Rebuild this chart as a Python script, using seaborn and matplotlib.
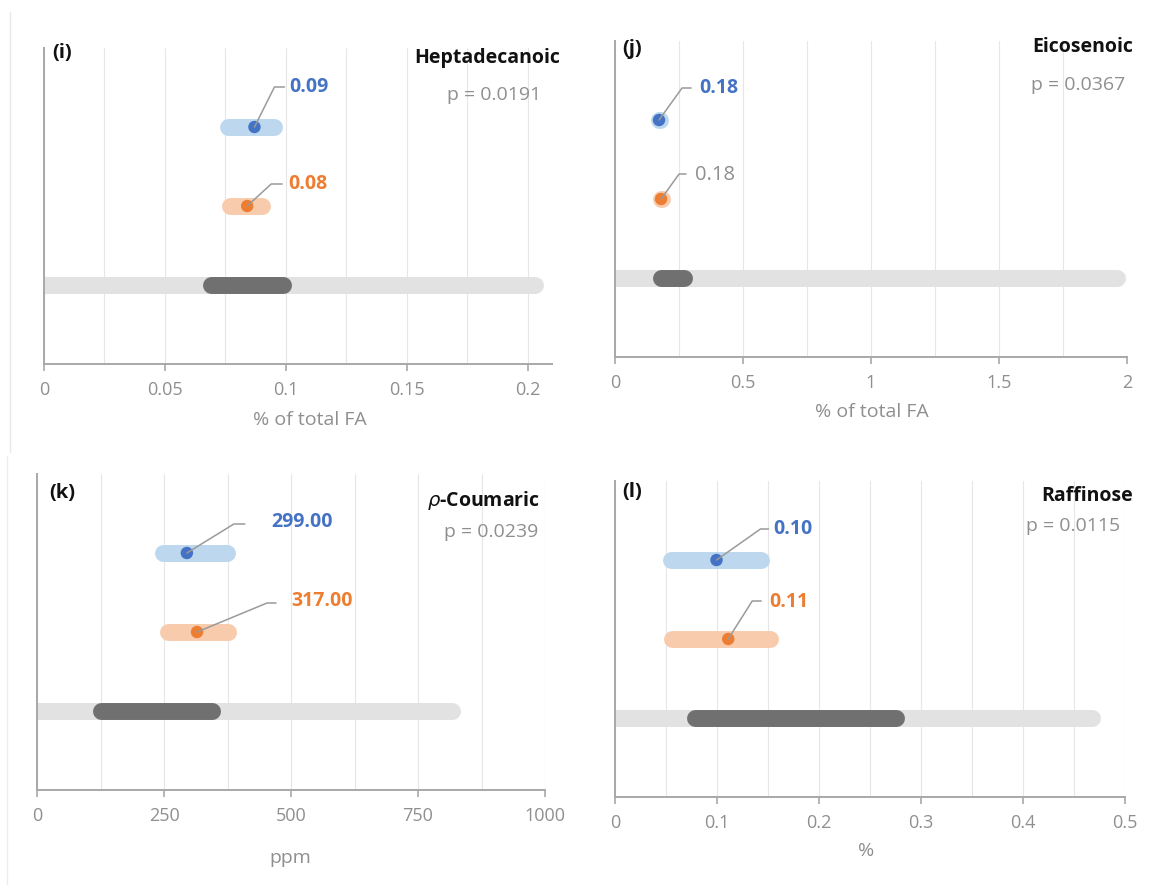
import numpy as np
import pandas as pd
import seaborn as sns
import matplotlib.pyplot as plt
from matplotlib.lines import Line2D
from matplotlib.ticker import MultipleLocator, FuncFormatter
from matplotlib.transforms import IdentityTransform

# ---- data ----
panel_tags = ['(i)', '(j)', '(k)', '(l)']
compounds = ['Heptadecanoic', 'Eicosenoic', r'$\rho$-Coumaric', 'Raffinose']
p_values = ['p = 0.0191', 'p = 0.0367', 'p = 0.0239', 'p = 0.0115']
x_titles = ['% of total FA', '% of total FA', 'ppm', '%']
x_max = [0.21, 2.0, 1000, 0.5]
x_step = [0.05, 0.5, 250, 0.1]

blue_mean = [0.087, 0.172, 295, 0.0995]
blue_low = [0.076, 0.170, 248, 0.055]
blue_high = [0.095, 0.175, 374, 0.143]
blue_text = ['0.09', '0.18', '299.00', '0.10']

orange_mean = [0.084, 0.180, 315, 0.111]
orange_low = [0.077, 0.178, 258, 0.056]
orange_high = [0.090, 0.183, 376, 0.152]
orange_text = ['0.08', '0.18', '317.00', '0.11']

all_low = [0, 0, 0, 0]
all_high = [0.203, 1.96, 817, 0.468]
iqr_low = [0.069, 0.18, 126, 0.078]
iqr_high = [0.099, 0.27, 344, 0.275]

# ---- layout (pixels in the 1157x885 image) ----
W, H = 1157, 885
boxes = [(44, 364, 552), (615, 357, 1127), (37, 790, 545), (615, 797, 1125)]
row_px = 79
title_pos = [(560, 58), (1133, 47), (540, 501), (1133, 496)]
p_pos = [(541, 95), (1125, 85), (538, 532), (1120, 526)]
tag_pos = [(52, 53), (622, 49), (49, 493), (622, 492)]
xlab_pos = [(310, 420), (872, 412), (290, 858), (866, 851)]
# leader offsets from the dot: corner, end of line, label start (pixels, up positive)
blue_lead = [((20, 40), (30, 40), (35, 40)), ((23, 32), (32, 32), (40, 32)),
             ((47, 29), (58, 29), (84, 31)), ((44, 31), (52, 31), (57, 31))]
orange_lead = [((24, 22), (35, 22), (41, 22)), ((18, 25), (25, 25), (34, 24)),
               ((70, 29), (79, 29), (94, 31)), ((24, 38), (33, 38), (41, 37))]
orange_bold = [True, False, True, True]

BLUE, BLUE_L = '#4472c4', '#bdd7ee'
ORANGE, ORANGE_L = '#ed7d31', '#f8cbad'
GREY_L, GREY_D = '#e2e2e2', '#707070'
TXT = '#8f8f8f'

sns.set_theme(style='white')
plt.rcParams['font.family'] = ['Open Sans', 'DejaVu Sans']

fig = plt.figure(figsize=(W / 100, H / 100), dpi=100)
fx = lambda x: x / W
fy = lambda y: 1 - y / H

fig.add_artist(Line2D([fx(10), fx(10)], [fy(12), fy(452)], color='#e8e8e8', lw=1))
fig.add_artist(Line2D([fx(7), fx(7)], [fy(456), fy(885)], color='#ededed', lw=1))

for i in range(4):
    left, bottom, right = boxes[i]
    ax = fig.add_axes([fx(left), fy(bottom), (right - left) / W, 4 * row_px / H])

    bar_w = 12.2
    ax.plot([all_low[i], all_high[i]], [0, 0], color=GREY_L, lw=bar_w,
            solid_capstyle='round', zorder=2)
    ax.plot([iqr_low[i], iqr_high[i]], [0, 0], color=GREY_D, lw=bar_w,
            solid_capstyle='round', zorder=2)
    ax.plot([orange_low[i], orange_high[i]], [1, 1], color=ORANGE_L, lw=bar_w,
            solid_capstyle='round', zorder=2)
    ax.plot([blue_low[i], blue_high[i]], [2, 2], color=BLUE_L, lw=bar_w,
            solid_capstyle='round', zorder=2)

    dots = pd.DataFrame({'value': [blue_mean[i], orange_mean[i]],
                         'row': [2, 1], 'group': ['A', 'B']})
    sns.scatterplot(data=dots, x='value', y='row', hue='group',
                    palette={'A': BLUE, 'B': ORANGE}, s=80, edgecolor='none',
                    legend=False, ax=ax, zorder=4)

    ax.set_xlim(0, x_max[i])
    ax.set_ylim(-1, 3)
    ax.set_xlabel('')
    ax.set_ylabel('')
    ax.set_yticks([])
    ax.xaxis.set_major_locator(MultipleLocator(x_step[i]))
    ax.xaxis.set_minor_locator(MultipleLocator(x_step[i] / 2))
    ax.xaxis.set_major_formatter(FuncFormatter(lambda v, p: f'{v:g}'))
    ax.grid(which='both', axis='x', color='#e6e6e6', lw=0.8, zorder=0)
    ax.set_axisbelow(True)
    for s in ['top', 'right']:
        ax.spines[s].set_visible(False)
    for s in ['left', 'bottom']:
        ax.spines[s].set_color('#a8a8a8')
        ax.spines[s].set_linewidth(1.4)
    ax.tick_params(axis='x', which='major', direction='out', length=5, width=1.2,
                   color='#a8a8a8', labelcolor=TXT, labelsize=13, pad=7, bottom=True)
    ax.tick_params(axis='x', which='minor', length=0)

    # value labels with leader lines
    for mean, row, lead, txt, col, bold in [
            (blue_mean[i], 2, blue_lead[i], blue_text[i], BLUE, True),
            (orange_mean[i], 1, orange_lead[i], orange_text[i],
             ORANGE if orange_bold[i] else TXT, orange_bold[i])]:
        px, py = ax.transData.transform((mean, row))
        (cx, cy), (ex, ey), (lx, ly) = lead
        fig.add_artist(Line2D([px, px + cx, px + ex], [py, py + cy, py + ey],
                              color='#9a9a9a', lw=1.1, transform=IdentityTransform(),
                              zorder=3))
        ax.annotate(txt, xy=(mean, row), xytext=(lx, ly), textcoords='offset pixels',
                    ha='left', va='center', fontsize=14 if bold else 14.5, color=col,
                    fontweight='bold' if bold else 'normal', annotation_clip=False)

    fig.text(fx(title_pos[i][0]), fy(title_pos[i][1]), compounds[i], ha='right',
             va='center', fontsize=14, fontweight='bold', color='#111111')
    fig.text(fx(p_pos[i][0]), fy(p_pos[i][1]), p_values[i], ha='right',
             va='center', fontsize=14, color=TXT)
    fig.text(fx(tag_pos[i][0]), fy(tag_pos[i][1]), panel_tags[i], ha='left',
             va='center', fontsize=14.5, fontweight='bold', color='#111111')
    fig.text(fx(xlab_pos[i][0]), fy(xlab_pos[i][1]), x_titles[i], ha='center',
             va='center', fontsize=14, color=TXT)

fig.savefig('out.png', dpi=100, facecolor='white')
